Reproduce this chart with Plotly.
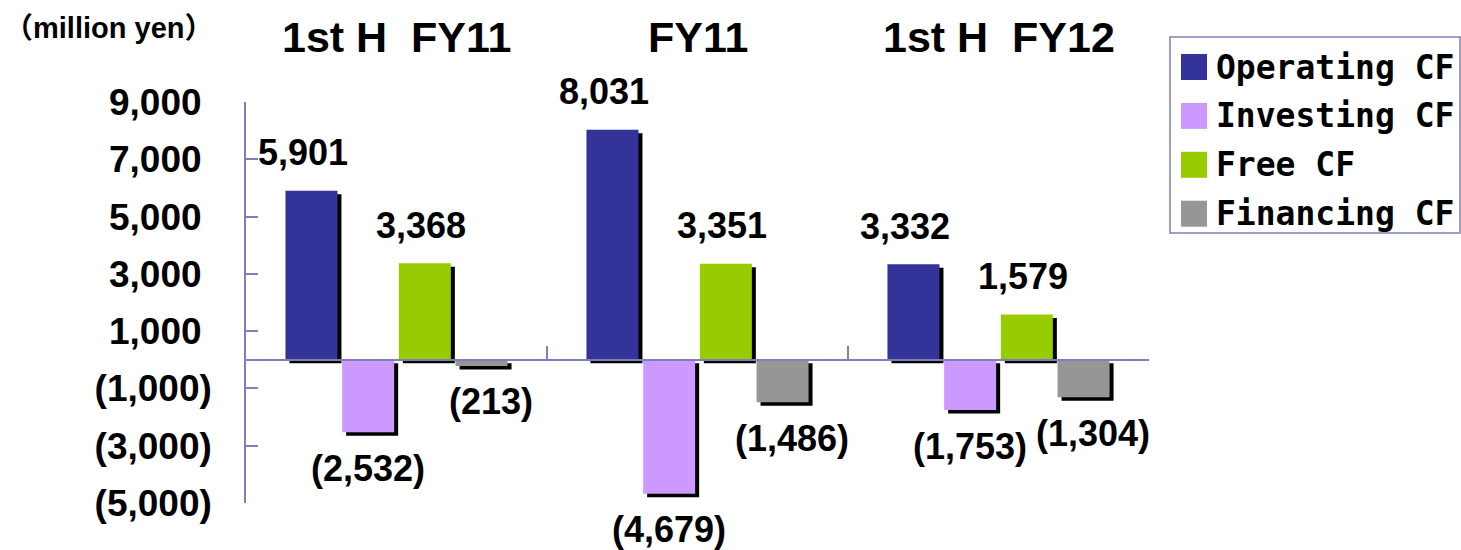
import plotly.graph_objects as go

# ---- data ----
periods = ["1st H  FY11", "FY11", "1st H  FY12"]
series_names = ["Operating CF", "Investing CF", "Free CF", "Financing CF"]
operating_cf = [5901, 8031, 3332]
investing_cf = [-2532, -4679, -1753]
free_cf = [3368, 3351, 1579]
financing_cf = [-213, -1486, -1304]
y_tick_values = [9000, 7000, 5000, 3000, 1000, -1000, -3000, -5000]
y_unit_label = "（million yen）"

series_values = [operating_cf, investing_cf, free_cf, financing_cf]
colors = ["#333399", "#CC99FF", "#99CC00", "#969696"]
AX = "#7f7fb8"
FONT = "Liberation Sans, Arial, Noto Sans CJK JP"

# ---- geometry (layout/style) ----
W, H = 1461, 550
L, R, T, B = 246, 312, 102, 47
PW, PH = W - L - R, H - T - B
Y0, Y1 = -5000, 9000
units_per_px_y = (Y1 - Y0) / PH
units_per_px_x = 3.0 / PW

bar_w = 52 * units_per_px_x
pitch = 56.7 * units_per_px_x
first_left = -(3 * pitch + bar_w) / 2
shadow_dx = 4 * units_per_px_x
shadow_dy = 3.5 * units_per_px_y
label_xshift = [-8, 0, -4, 9]


def fmt(v):
    s = f"{abs(v):,}"
    return f"({s})" if v < 0 else s


def tick_fmt(v):
    return fmt(v) if v < 0 else fmt(v) + "\u00a0"


fig = go.Figure()

# shadows
for j, vals in enumerate(series_values):
    fig.add_trace(go.Bar(
        x=periods, y=vals, base=-shadow_dy,
        offset=first_left + j * pitch + shadow_dx, width=bar_w,
        marker=dict(color="black", line=dict(width=0)),
        showlegend=False, hoverinfo="skip",
    ))

# bars
for j, (name, vals) in enumerate(zip(series_names, series_values)):
    fig.add_trace(go.Bar(
        x=periods, y=vals, name=name,
        offset=first_left + j * pitch, width=bar_w,
        marker=dict(color=colors[j], line=dict(width=0)),
        showlegend=False,
    ))

annotations = []
# data labels
for j, vals in enumerate(series_values):
    for i, v in enumerate(vals):
        annotations.append(dict(
            x=i + first_left + j * pitch + bar_w / 2, xref="x",
            y=v, yref="y", text=fmt(v), showarrow=False,
            xanchor="center", yanchor="middle",
            xshift=label_xshift[j], yshift=38 if v >= 0 else -36,
            font=dict(family=FONT, size=36, color="black", weight="bold"),
        ))

# period titles
for i, p in enumerate(periods):
    annotations.append(dict(
        x=i, xref="x", y=(H - B - 37) / PH, yref="paper",
        text=p, showarrow=False, xanchor="center", yanchor="middle",
        font=dict(family=FONT, size=43, color="black", weight="bold"),
    ))

# unit label
annotations.append(dict(
    x=(2 - L) / PW, xref="paper", y=(H - B - 28) / PH, yref="paper",
    text=y_unit_label, showarrow=False, xanchor="left", yanchor="middle",
    font=dict(family=FONT, size=29, color="black", weight="bold"),
))

# manual legend
def px_x(p):
    return (p - L) / PW


def px_y(p):
    return (H - B - p) / PH


shapes = [dict(
    type="rect", xref="paper", yref="paper",
    x0=px_x(1170), x1=px_x(1460), y0=px_y(233), y1=px_y(37),
    line=dict(color=AX, width=1.5), fillcolor="white", layer="above",
)]
for j, name in enumerate(series_names):
    cy = 67 + j * 48.9
    shapes.append(dict(
        type="rect", xref="paper", yref="paper",
        x0=px_x(1181), x1=px_x(1207), y0=px_y(cy + 13), y1=px_y(cy - 13),
        line=dict(width=0), fillcolor=colors[j], layer="above",
    ))
    annotations.append(dict(
        x=px_x(1214), xref="paper", y=px_y(cy), yref="paper",
        text=name, showarrow=False, xanchor="left", yanchor="middle",
        font=dict(family="DejaVu Sans Mono", size=33, color="black",
                  weight="bold"),
    ))

fig.update_layout(
    width=W, height=H, autosize=False,
    margin=dict(l=L, r=R, t=T, b=B),
    paper_bgcolor="white", plot_bgcolor="white",
    barmode="overlay",
    annotations=annotations, shapes=shapes,
    xaxis=dict(
        type="category", categoryorder="array", categoryarray=periods,
        range=[-0.5, 2.5], anchor="free", position=(0 - Y0) / (Y1 - Y0),
        showline=True, linecolor=AX, linewidth=1.5,
        ticks="inside", tickson="boundaries", ticklen=13,
        tickcolor=AX, tickwidth=1.5,
        showticklabels=False, showgrid=False, zeroline=False,
    ),
    yaxis=dict(
        range=[Y0, Y1], tickmode="array", tickvals=y_tick_values,
        ticktext=[tick_fmt(v) for v in y_tick_values],
        ticks="inside", ticklen=12, tickcolor=AX, tickwidth=1.5,
        showline=True, linecolor=AX, linewidth=1.5,
        showgrid=False, zeroline=False, ticklabelstandoff=25,
        tickfont=dict(family=FONT, size=37, color="black", weight="bold"),
    ),
)

fig.write_html("out.html")
